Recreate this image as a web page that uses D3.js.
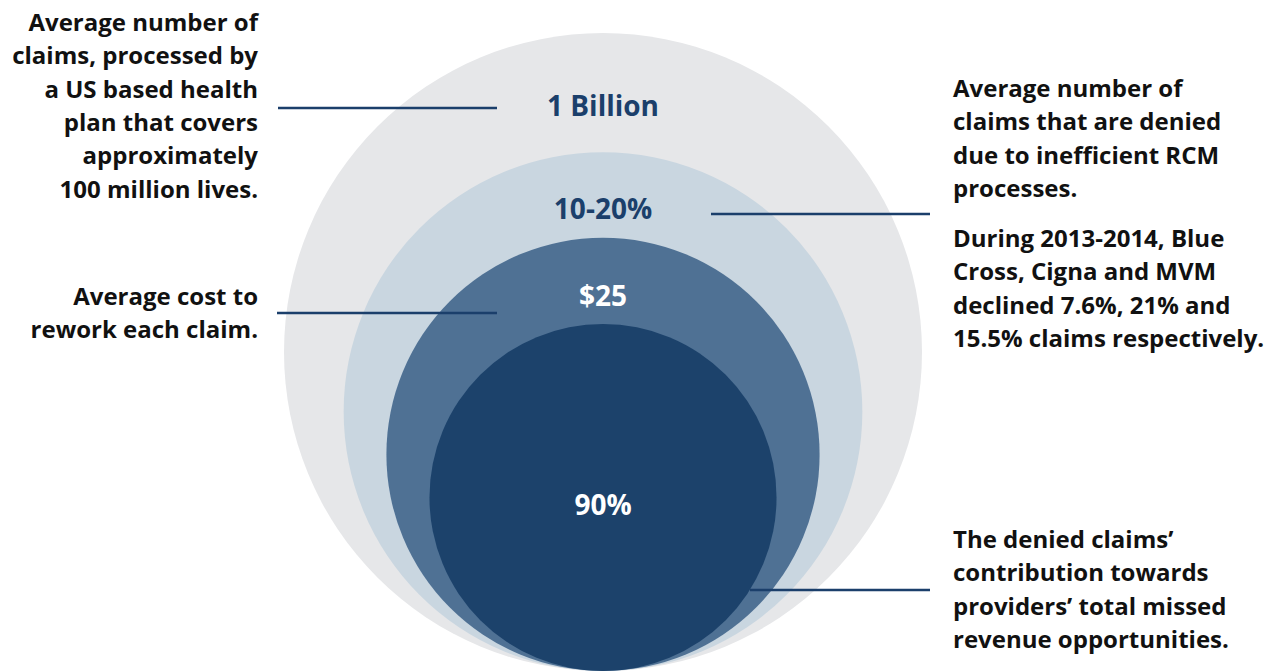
<!DOCTYPE html>
<html>
<head>
<meta charset="utf-8">
<script src="https://cdn.jsdelivr.net/npm/d3@7/dist/d3.min.js"></script>
<style>
  body { margin: 0; background: #ffffff; }
  svg { display: block; }
  .ring-label { font-family: "Open Sans", Lato, sans-serif; font-weight: 700; text-anchor: middle; }
  .note { font-family: "Open Sans", Lato, sans-serif; font-weight: 700; fill: #111111; }
</style>
</head>
<body>
<svg id="chart"></svg>
<script>
// nested circles, biggest first; size is relative to the outer one
var ringLabels = ["1 Billion", "10-20%", "$25", "90%"];
var ringSizes = [1, 0.813, 0.679, 0.544];
var ringColors = ["#e6e7e9", "#c9d6e0", "#4f7194", "#1c426b"];
var ringTextColors = ["#1b3f6b", "#1b3f6b", "#ffffff", "#ffffff"];

var notes = [
    ["Average number of", "claims, processed by", "a US based health", "plan that covers", "approximately", "100 million lives."],
    ["Average number of", "claims that are denied", "due to inefficient RCM", "processes."],
    ["Average cost to", "rework each claim."],
    ["During 2013-2014, Blue", "Cross, Cigna and MVM", "declined 7.6%, 21% and", "15.5% claims respectively."],
    ["The denied claims\u2019", "contribution towards", "providers\u2019 total missed", "revenue opportunities."]
];

var width = 1274, height = 671;
var cx = 603, baseY = 671;

var svg = d3.select("#chart").attr("width", width).attr("height", height);

var r = d3.scaleLinear().domain([0, 1]).range([0, 319]);

var rings = ringSizes.map(function(s, i) {
    return { size: s, label: ringLabels[i], fill: ringColors[i], text: ringTextColors[i] };
});

svg.append("g").selectAll("circle")
    .data(rings)
    .enter().append("circle")
    .attr("cx", cx)
    .attr("cy", function(d) { return baseY - r(d.size); })
    .attr("r", function(d) { return r(d.size); })
    .style("fill", function(d) { return d.fill; });

// label sits a bit below the top of each ring (90% sits lower)
var labelOffset = [83, 67, 68, 191];
svg.append("g").selectAll("text")
    .data(rings)
    .enter().append("text")
    .attr("class", "ring-label")
    .attr("x", cx)
    .attr("y", function(d, i) { return baseY - 2 * r(d.size) + labelOffset[i]; })
    .style("fill", function(d) { return d.text; })
    .style("font-size", "28px")
    .text(function(d) { return d.label; });

// leader lines
var leaders = [
    { x1: 278, x2: 497, y: 108 },
    { x1: 711, x2: 930, y: 214 },
    { x1: 277, x2: 497, y: 313 },
    { x1: 750, x2: 930, y: 590 }
];
svg.append("g").selectAll("line")
    .data(leaders)
    .enter().append("line")
    .attr("x1", function(d) { return d.x1; })
    .attr("x2", function(d) { return d.x2; })
    .attr("y1", function(d) { return d.y; })
    .attr("y2", function(d) { return d.y; })
    .style("stroke", "#1b3f6b")
    .style("stroke-width", 2.5);

var blocks = [
    { x: 258, y: 31, anchor: "end" },
    { x: 953, y: 97, anchor: "start" },
    { x: 258, y: 305, anchor: "end" },
    { x: 953, y: 247, anchor: "start" },
    { x: 953, y: 548, anchor: "start" }
];

blocks.forEach(function(b, i) {
    var t = svg.append("text")
        .attr("class", "note")
        .attr("text-anchor", b.anchor)
        .style("font-size", "24px");
    t.selectAll("tspan")
        .data(notes[i])
        .enter().append("tspan")
        .attr("x", b.x)
        .attr("y", function(d, j) { return b.y + j * 33.3; })
        .text(function(d) { return d; });
});
</script>
</body>
</html>
